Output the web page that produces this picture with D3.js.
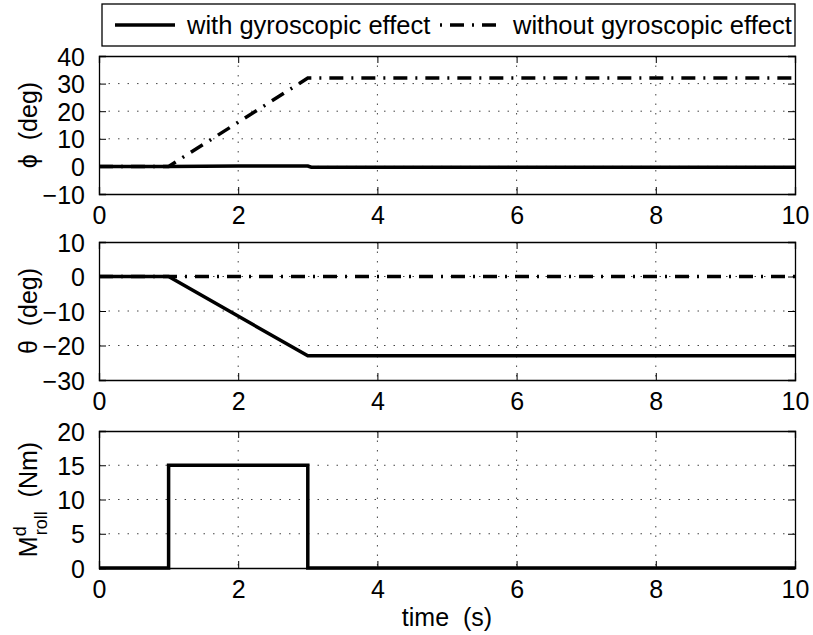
<!DOCTYPE html>
<html>
<head>
<meta charset="utf-8">
<script src="https://cdn.jsdelivr.net/npm/d3@7"></script>
<style>
  body { margin: 0; background: #fff; }
  svg { display: block; font-family: "Liberation Sans", Arial, sans-serif; }
  text { white-space: pre; }
</style>
</head>
<body>
<div id="chart"></div>
<script>
// ---- data ----
const timeTicks = [0, 2, 4, 6, 8, 10];

const phiWithTime = [0, 1, 2, 3, 3.05, 10];
const phiWithDeg = [0, 0, 0.15, 0.15, -0.3, -0.3];
const phiWithoutTime = [0, 1, 3, 10];
const phiWithoutDeg = [0, 0, 32, 32];

const thetaWithTime = [0, 1, 3, 10];
const thetaWithDeg = [0, 0, -23, -23];
const thetaWithoutTime = [0, 10];
const thetaWithoutDeg = [0, 0];

const momentTime = [0, 1, 1, 3, 3, 10];
const momentNm = [0, 0, 15, 15, 0, 0];

const phiTicks = [-10, 0, 10, 20, 30, 40];
const thetaTicks = [-30, -20, -10, 0, 10];
const momentTicks = [0, 5, 10, 15, 20];

const legendLabels = ["with gyroscopic effect", "without gyroscopic effect"];

// ---- layout ----
const W = 813, H = 635;
const left = 99, right = 795;
const fontSize = 25;
const dashDot = "14,8,2,8";

const svg = d3.select("#chart").append("svg")
  .attr("width", W).attr("height", H);

const x = d3.scaleLinear().domain([0, 10]).range([left, right]);

function zip(ts, vs) { return ts.map((t, i) => [t, vs[i]]); }

const panels = [
  { top: 56, bottom: 194, ticks: phiTicks, label: "phi",
    series: [
      { d: zip(phiWithoutTime, phiWithoutDeg), dash: dashDot },
      { d: zip(phiWithTime, phiWithDeg), dash: null }
    ] },
  { top: 242, bottom: 380, ticks: thetaTicks, label: "theta",
    series: [
      { d: zip(thetaWithTime, thetaWithDeg), dash: null },
      { d: zip(thetaWithoutTime, thetaWithoutDeg), dash: dashDot }
    ] },
  { top: 431, bottom: 568, ticks: momentTicks, label: "moment",
    series: [
      { d: zip(momentTime, momentNm), dash: null }
    ] }
];

panels.forEach(p => {
  const y = d3.scaleLinear()
    .domain(d3.extent(p.ticks))
    .range([p.bottom, p.top]);
  const g = svg.append("g");

  g.append("rect")
    .attr("x", left).attr("y", p.top)
    .attr("width", right - left).attr("height", p.bottom - p.top)
    .attr("fill", "#fff");

  // dotted grid
  g.selectAll(".gx").data(timeTicks.slice(1, -1)).join("line")
    .attr("x1", d => x(d)).attr("x2", d => x(d))
    .attr("y1", p.top).attr("y2", p.bottom)
    .attr("stroke", "#444").attr("stroke-width", 1)
    .attr("stroke-dasharray", "1.5,8");
  g.selectAll(".gy").data(p.ticks.slice(1, -1)).join("line")
    .attr("x1", left).attr("x2", right)
    .attr("y1", d => y(d)).attr("y2", d => y(d))
    .attr("stroke", "#444").attr("stroke-width", 1)
    .attr("stroke-dasharray", "1.5,8");

  // axes, ticks inward on all four sides
  const axB = g.append("g").attr("transform", `translate(0,${p.bottom})`)
    .call(d3.axisBottom(x).tickValues(timeTicks).tickSize(-7).tickPadding(12).tickFormat(d3.format("d")));
  const axT = g.append("g").attr("transform", `translate(0,${p.top})`)
    .call(d3.axisTop(x).tickValues(timeTicks).tickSize(-7).tickFormat(""));
  const axL = g.append("g").attr("transform", `translate(${left},0)`)
    .call(d3.axisLeft(y).tickValues(p.ticks).tickSize(-7).tickPadding(14));
  const axR = g.append("g").attr("transform", `translate(${right},0)`)
    .call(d3.axisRight(y).tickValues(p.ticks).tickSize(-7).tickFormat(""));

  [axB, axT, axL, axR].forEach(a => {
    a.select(".domain").attr("stroke", "#000").attr("stroke-width", 1.3);
    a.selectAll(".tick line").attr("stroke", "#000").attr("stroke-width", 1);
    a.selectAll("text").attr("font-size", fontSize).attr("fill", "#000")
      .attr("font-family", "Liberation Sans, Arial, sans-serif");
  });
  axB.selectAll("text").attr("dy", "0.71em");
  axL.selectAll("text").attr("dy", "0.36em");

  const line = d3.line().x(d => x(d[0])).y(d => y(d[1]));
  p.series.forEach(s => {
    g.append("path")
      .attr("d", line(s.d))
      .attr("fill", "none")
      .attr("stroke", "#000")
      .attr("stroke-width", 3.5)
      .attr("stroke-linejoin", "miter")
      .attr("stroke-dasharray", s.dash);
  });

  // y label
  const cy = (p.top + p.bottom) / 2;
  const lab = g.append("text")
    .attr("transform", `translate(37,${cy}) rotate(-90)`)
    .attr("text-anchor", "middle")
    .attr("font-size", fontSize)
    .attr("fill", "#000");
  if (p.label === "phi") lab.text("\u03D5  (deg)");
  else if (p.label === "theta") lab.text("\u03B8  (deg)");
  else {
    lab.append("tspan").text("M");
    lab.append("tspan").attr("font-size", 18).attr("dy", -11).text("d");
    lab.append("tspan").attr("font-size", 18).attr("dx", -9).attr("dy", 21).text("roll");
    lab.append("tspan").attr("dy", -10).text("  (Nm)");
  }
});

// x label
svg.append("text")
  .attr("x", (left + right) / 2).attr("y", 626)
  .attr("text-anchor", "middle")
  .attr("font-size", fontSize)
  .attr("fill", "#000")
  .text("time  (s)");

// legend
const lg = svg.append("g");
lg.append("rect")
  .attr("x", 102).attr("y", 4).attr("width", right - 102).attr("height", 42)
  .attr("fill", "#fff").attr("stroke", "#000").attr("stroke-width", 1.3);
const legendItems = [
  { x1: 115, x2: 175, tx: 187, dash: null },
  { x1: 440, x2: 504, tx: 513, dash: "2,8,14,8" }
];
legendItems.forEach((it, i) => {
  lg.append("line")
    .attr("x1", it.x1).attr("x2", it.x2).attr("y1", 25).attr("y2", 25)
    .attr("stroke", "#000").attr("stroke-width", 3.5)
    .attr("stroke-dasharray", it.dash);
  lg.append("text")
    .attr("x", it.tx).attr("y", 25).attr("dy", "0.36em")
    .attr("font-size", 25.5).attr("fill", "#000")
    .text(legendLabels[i]);
});
</script>
</body>
</html>
